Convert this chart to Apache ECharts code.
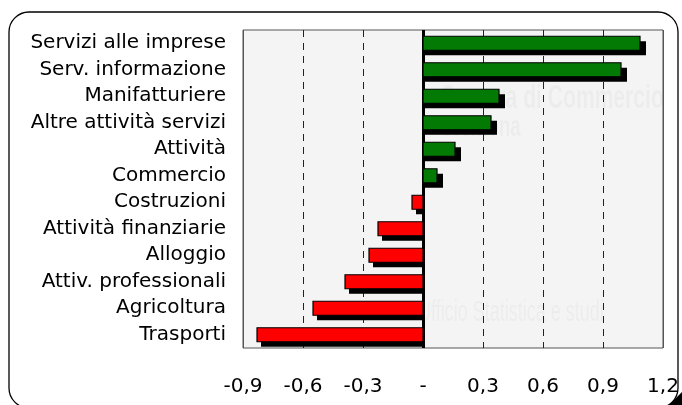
<!DOCTYPE html>
<html>
<head>
<meta charset="utf-8">
<script src="https://cdn.jsdelivr.net/npm/echarts@6/dist/echarts.min.js"></script>
<style>
html,body{margin:0;padding:0;background:#fff;}
#c{width:682px;height:405px;}
</style>
</head>
<body>
<div id="c"></div>
<script>
const categories = ["Servizi alle imprese","Serv. informazione","Manifatturiere","Altre attività servizi","Attività","Commercio","Costruzioni","Attività finanziarie","Alloggio","Attiv. professionali","Agricoltura","Trasporti"];
const values = [1.085, 0.99, 0.38, 0.34, 0.16, 0.07, -0.055, -0.225, -0.27, -0.39, -0.55, -0.83];
const tickLabels = {"-0.9":"-0,9","-0.6":"-0,6","-0.3":"-0,3","0.0":"-","0.3":"0,3","0.6":"0,6","0.9":"0,9","1.2":"1,2"};
const FONT = "DejaVu Sans";
const GREEN = '#037A03', RED = '#FF0000';
const X_MIN = -0.9, X_MAX = 1.2;

const chart = echarts.init(document.getElementById('c'), null, {renderer:'canvas'});

function renderBar(params, api){
  const cat = api.value(0), v = api.value(1);
  const p0 = api.coord([0, cat]);
  const p1 = api.coord([v, cat]);
  const h = 14, off = 5;
  const xL = Math.min(p0[0], p1[0]), w = Math.abs(p1[0]-p0[0]);
  const yT = p0[1] - h/2;
  const sx = v >= 0 ? xL : xL + off - 1;
  const sw = v >= 0 ? w + off + 1 : Math.max(0, w - off + 1);
  return {type:'group', children:[
    {type:'rect', shape:{x:sx, y:yT+off, width:sw, height:h}, style:{fill:'#000'}},
    {type:'rect', shape:{x:xL, y:yT, width:w, height:h}, style:{fill: v>=0?GREEN:RED, stroke:'#000', lineWidth:1.2}}
  ]};
}

const wmFont = '"Liberation Sans", sans-serif';
chart.setOption({
  animation:false,
  backgroundColor:'#ffffff',
  graphic:[
    {type:'polygon', shape:{points:[[669,405],[682,392],[682,405]]}, style:{fill:'#000'}, z:0},
    {type:'rect', shape:{x:9,y:12,width:669,height:396,r:20}, style:{fill:'none',stroke:'#000',lineWidth:1.3}, z:1},
    {type:'text', x:440, y:82, scaleX:0.62, style:{text:'Camera di Commercio', font:'bold 34px ' + wmFont, fill:'rgba(0,0,0,0.03)'}, z:1},
    {type:'text', x:440, y:113, scaleX:0.62, style:{text:'Cremona', font:'bold 30px ' + wmFont, fill:'rgba(0,0,0,0.03)'}, z:1},
    {type:'text', x:418, y:298, scaleX:0.6, style:{text:'Ufficio Statistica e studi', font:'30px ' + wmFont, fill:'rgba(0,0,0,0.03)'}, z:1}
  ],
  grid:{left:243,right:19,top:30,bottom:57,show:true,backgroundColor:'#f4f4f4',borderColor:'#555',borderWidth:1,z:0},
  xAxis:{
    type:'value', min:X_MIN, max:X_MAX, interval:0.3,
    axisLine:{show:false}, axisTick:{show:false},
    splitLine:{show:true, lineStyle:{color:'#222', type:[7,6], width:1}},
    axisLabel:{margin:29, fontFamily:FONT, fontSize:20, color:'#000',
      formatter:function(v){ let k=(Math.round(v*10)/10).toFixed(1); if(k==='-0.0')k='0.0'; return tickLabels[k] || k; }}
  },
  yAxis:{
    type:'category', data:categories, inverse:true,
    axisLine:{show:false}, axisTick:{show:false},
    axisLabel:{interval:0, margin:17, padding:[6,0,0,0], fontFamily:FONT, fontSize:20, color:'#000'}
  },
  series:[{
    type:'custom',
    renderItem:renderBar,
    encode:{x:1, y:0},
    data:values.map((v,i)=>[i, v]),
    z:5,
    markLine:{silent:true, symbol:'none', label:{show:false},
      lineStyle:{color:'#000', width:3, type:'solid'},
      data:[
        {xAxis:0},
        {xAxis:X_MIN, lineStyle:{color:'#555', width:1, type:'solid'}},
        {xAxis:X_MAX, lineStyle:{color:'#555', width:1, type:'solid'}}
      ]}
  }]
});
</script>
</body>
</html>
